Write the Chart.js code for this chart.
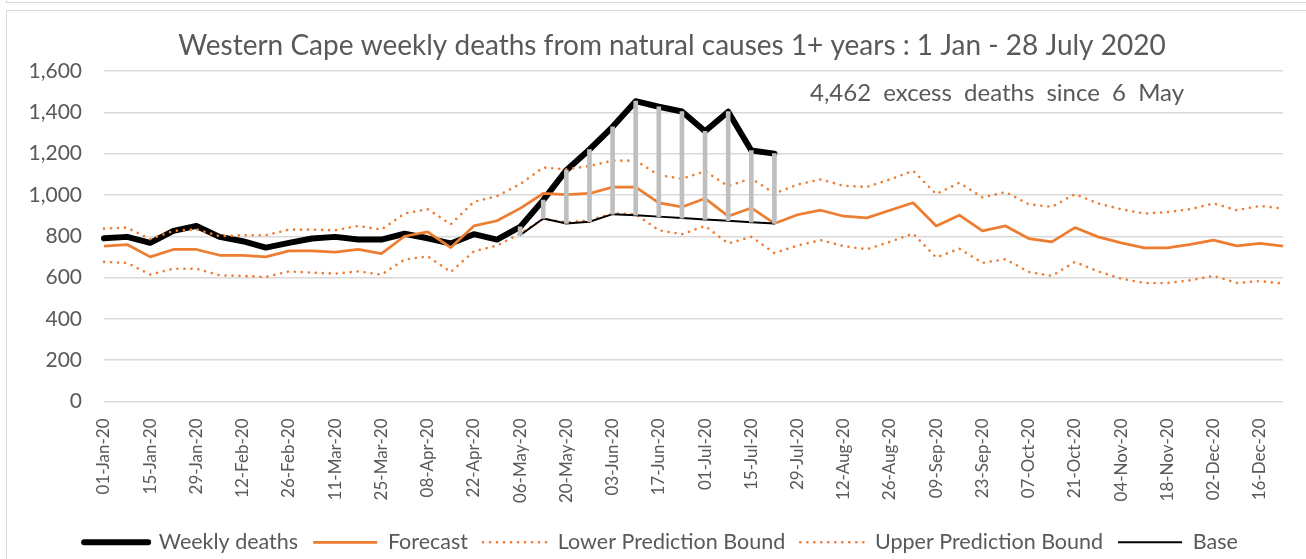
<!DOCTYPE html>
<html><head><meta charset="utf-8">
<script src="https://cdn.jsdelivr.net/npm/chart.js@4.4.1/dist/chart.umd.min.js"></script>
<style>
html,body{margin:0;padding:0;background:#fff;}
#wrap{position:relative;width:1306px;height:559px;overflow:hidden;background:#fff;}
#prev{position:absolute;left:6px;top:-10px;width:1400px;height:12px;border-left:1px solid #d9d9d9;border-bottom:1px solid #d9d9d9;}
#frame{position:absolute;left:6px;top:10px;width:1400px;height:600px;border-left:1px solid #d9d9d9;border-top:1px solid #d9d9d9;}
canvas{position:absolute;left:0;top:0;}
</style></head><body>
<div id="wrap"><div id="prev"></div><div id="frame"></div><canvas id="c" width="1306" height="559"></canvas></div>
<script>
const weeks = ["01-Jan-20","08-Jan-20","15-Jan-20","22-Jan-20","29-Jan-20","05-Feb-20","12-Feb-20","19-Feb-20","26-Feb-20","04-Mar-20","11-Mar-20","18-Mar-20","25-Mar-20","01-Apr-20","08-Apr-20","15-Apr-20","22-Apr-20","29-Apr-20","06-May-20","13-May-20","20-May-20","27-May-20","03-Jun-20","10-Jun-20","17-Jun-20","24-Jun-20","01-Jul-20","08-Jul-20","15-Jul-20","22-Jul-20","29-Jul-20","05-Aug-20","12-Aug-20","19-Aug-20","26-Aug-20","02-Sep-20","09-Sep-20","16-Sep-20","23-Sep-20","30-Sep-20","07-Oct-20","14-Oct-20","21-Oct-20","28-Oct-20","04-Nov-20","11-Nov-20","18-Nov-20","25-Nov-20","02-Dec-20","09-Dec-20","16-Dec-20","23-Dec-20"];

const weeklyDeaths = [790,797,768,826,850,797,776,745,768,789,797,784,784,812,790,765,810,784,845,975,1120,1220,1330,1454,1427,1404,1308,1403,1215,1200];

const forecast = [752,760,700,736,736,708,708,700,729,729,723,736,716,800,821,745,850,875,935,1007,1002,1007,1038,1038,962,942,983,897,937,862,904,926,897,889,926,962,850,902,826,850,789,773,842,797,768,744,744,761,781,753,766,752];

const lowerBound = [676,671,614,643,643,611,608,603,630,624,619,630,614,687,703,627,727,755,813,884,867,878,910,907,829,810,850,765,797,719,755,781,752,737,773,813,697,740,671,689,627,608,676,630,595,574,574,587,608,574,583,571];

const upperBound = [837,842,786,826,834,800,805,805,832,832,829,850,832,910,931,858,967,994,1052,1133,1124,1140,1166,1166,1096,1078,1115,1043,1080,1007,1050,1075,1044,1039,1075,1117,1004,1059,988,1014,955,942,1004,959,931,910,917,931,959,926,947,934];

const baseStart = 18;
const baseValues = [805,886,862,870,907,902,895,888,881,875,868,862];

const yTicks = [0,200,400,600,800,1000,1200,1400,1600];
const titleText = "Western Cape weekly deaths from natural causes 1+ years : 1 Jan - 28 July 2020";
const noteText = "4,462 excess deaths since 6 May";

const base = weeks.map((_, i) => (i >= baseStart && i < baseStart + baseValues.length) ? baseValues[i - baseStart] : null);
const excessBars = weeks.map((_, i) => (base[i] != null && weeklyDeaths[i] != null) ? [base[i], weeklyDeaths[i]] : null);

const FONT = "Lato";
const TXT = "#595959";
const ORANGE = "#ED7D31";

const textPlugin = {
  id: 'texts',
  afterDraw(chart) {
    const ctx = chart.ctx;
    ctx.save();
    ctx.fillStyle = TXT;
    ctx.textBaseline = 'middle';
    ctx.textAlign = 'center';
    ctx.font = `28px ${FONT}`;
    ctx.fillText(titleText, 672, 46);
    ctx.textAlign = 'left';
    ctx.font = `24px ${FONT}`;
    try { ctx.wordSpacing = '6px'; } catch (e) {}
    ctx.fillText(noteText, 810, 93);
    ctx.restore();
  }
};

new Chart(document.getElementById('c'), {
  data: {
    labels: weeks,
    datasets: [
      { type: 'bar', label: 'excess', data: excessBars, backgroundColor: '#BFBFBF', barThickness: 4, order: 0 },
      { type: 'line', label: 'Weekly deaths', data: weeklyDeaths, borderColor: '#000', backgroundColor: '#000', borderWidth: 6, borderCapStyle: 'round', borderJoinStyle: 'round', pointRadius: 0, order: 6 },
      { type: 'line', label: 'Forecast', data: forecast, borderColor: ORANGE, backgroundColor: ORANGE, borderWidth: 2.75, borderCapStyle: 'butt', borderJoinStyle: 'round', pointRadius: 0, order: 5 },
      { type: 'line', label: 'Lower Prediction Bound', data: lowerBound, borderColor: ORANGE, backgroundColor: ORANGE, borderWidth: 2.6, borderDash: [0.1, 6.9], borderCapStyle: 'round', borderJoinStyle: 'round', pointRadius: 0, order: 4 },
      { type: 'line', label: 'Upper Prediction Bound', data: upperBound, borderColor: ORANGE, backgroundColor: ORANGE, borderWidth: 2.6, borderDash: [0.1, 6.9], borderCapStyle: 'round', borderJoinStyle: 'round', pointRadius: 0, order: 3 },
      { type: 'line', label: 'Base', data: base, borderColor: '#000', backgroundColor: '#000', borderWidth: 2, borderCapStyle: 'butt', borderJoinStyle: 'round', pointRadius: 0, order: 2 }
    ]
  },
  options: {
    responsive: false,
    animation: false,
    devicePixelRatio: 1,
    layout: { padding: { top: 71, left: 20, right: 4, bottom: -4 } },
    plugins: {
      tooltip: { enabled: false },
      title: { display: false },
      legend: {
        position: 'bottom',
        labels: {
          usePointStyle: true,
          pointStyleWidth: 64,
          padding: 15,
          color: TXT,
          font: { family: FONT, size: 21.5 },
          generateLabels: (chart) => chart.data.datasets
            .map((ds, i) => ({
              text: ds.label,
              fillStyle: ds.borderColor,
              strokeStyle: ds.borderColor,
              lineWidth: ds.borderWidth,
              lineDash: ds.borderDash || [],
              lineCap: ds.borderCapStyle,
              pointStyle: 'line',
              fontColor: TXT,
              hidden: false,
              datasetIndex: i
            }))
            .filter(it => chart.data.datasets[it.datasetIndex].type !== 'bar')
        }
      }
    },
    scales: {
      x: {
        type: 'category',
        offset: false,
        grid: { display: false, drawTicks: false },
        border: { display: false },
        afterFit: (s) => { s.height = 115; s.paddingRight = 23; s.paddingLeft = 0; },
        ticks: {
          autoSkip: false,
          minRotation: 90,
          maxRotation: 90,
          padding: 17,
          color: TXT,
          font: { family: FONT, size: 17 },
          callback: function(v, i) { return i % 2 === 0 ? this.getLabelForValue(v) : ''; }
        }
      },
      y: {
        min: 0,
        max: 1600,
        afterFit: (s) => { s.width = 84; s.paddingTop = 0; s.paddingBottom = 0; },
        afterBuildTicks: (s) => { s.ticks = yTicks.map(v => ({ value: v })); },
        grid: { color: '#D9D9D9', lineWidth: 1.5, drawTicks: false },
        border: { display: false },
        ticks: {
          padding: 22,
          color: TXT,
          font: { family: FONT, size: 21 },
          callback: (v) => v.toLocaleString('en-US')
        }
      }
    }
  },
  plugins: [textPlugin]
});
</script>
</body></html>
